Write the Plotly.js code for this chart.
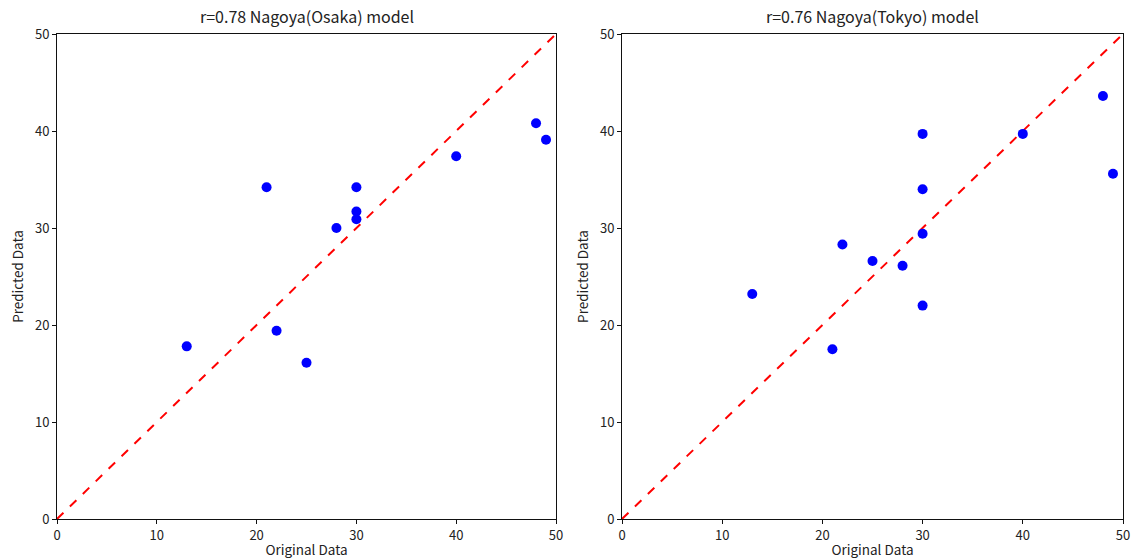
<!DOCTYPE html>
<html>
<head>
<meta charset="utf-8">
<script src="https://cdn.plot.ly/plotly-3.0.1.min.js"></script>
<style>html,body{margin:0;padding:0;background:#fff;}#chart{width:1132px;height:559px;}</style>
</head>
<body>
<div id="chart"></div>
<script>
// Data
const osakaOriginal = [13, 21, 22, 25, 28, 30, 30, 30, 40, 48, 49];
const osakaPredicted = [17.8, 34.2, 19.4, 16.1, 30.0, 34.2, 31.7, 30.9, 37.4, 40.8, 39.1];
const tokyoOriginal = [13, 21, 22, 25, 28, 30, 30, 30, 30, 40, 48, 49];
const tokyoPredicted = [23.2, 17.5, 28.3, 26.6, 26.1, 39.7, 34.0, 29.4, 22.0, 39.7, 43.6, 35.6];
const identityLine = [0, 50];
const titles = ["r=0.78 Nagoya(Osaka) model", "r=0.76 Nagoya(Tokyo) model"];
const xLabel = "Original Data";
const yLabel = "Predicted Data";
const tickVals = [0, 10, 20, 30, 40, 50];

const FONT = '"Noto Sans CJK JP", "Noto Sans", sans-serif';

const traces = [
  {x: identityLine, y: identityLine, mode: 'lines', line: {color: 'red', dash: 'dash', width: 2}, xaxis: 'x', yaxis: 'y', hoverinfo: 'skip'},
  {x: osakaOriginal, y: osakaPredicted, mode: 'markers', marker: {color: 'blue', size: 10}, xaxis: 'x', yaxis: 'y'},
  {x: identityLine, y: identityLine, mode: 'lines', line: {color: 'red', dash: 'dash', width: 2}, xaxis: 'x2', yaxis: 'y2', hoverinfo: 'skip'},
  {x: tokyoOriginal, y: tokyoPredicted, mode: 'markers', marker: {color: 'blue', size: 10}, xaxis: 'x2', yaxis: 'y2'}
];

function axis(extra) {
  return Object.assign({
    range: [0, 50], tickvals: tickVals, showgrid: false, zeroline: false,
    showline: true, linecolor: '#111', linewidth: 1, mirror: true,
    ticks: 'outside', ticklen: 4, tickcolor: '#111',
    tickfont: {family: FONT, size: 13, color: '#222'}, automargin: false
  }, extra);
}

const W = 1132;
const layout = {
  width: 1132, height: 559,
  margin: {l: 0, r: 0, t: 34, b: 40},
  paper_bgcolor: '#fff', plot_bgcolor: '#fff',
  showlegend: false,
  font: {family: FONT, color: '#222'},
  xaxis: axis({domain: [57 / W, 556 / W], anchor: 'y', title: {text: xLabel, font: {family: FONT, size: 13.5}, standoff: 3}}),
  yaxis: axis({domain: [0, 1], anchor: 'x', title: {text: yLabel, font: {family: FONT, size: 13.5}, standoff: 8}}),
  xaxis2: axis({domain: [622 / W, 1123 / W], anchor: 'y2', title: {text: xLabel, font: {family: FONT, size: 13.5}, standoff: 3}}),
  yaxis2: axis({domain: [0, 1], anchor: 'x2', title: {text: yLabel, font: {family: FONT, size: 13.5}, standoff: 8}}),
  annotations: [
    {text: titles[0], xref: 'paper', yref: 'paper', x: (57 + 556) / 2 / W, y: 1, yshift: 4, xanchor: 'center', yanchor: 'bottom', showarrow: false, font: {family: FONT, size: 16, color: '#222'}},
    {text: titles[1], xref: 'paper', yref: 'paper', x: (622 + 1123) / 2 / W, y: 1, yshift: 4, xanchor: 'center', yanchor: 'bottom', showarrow: false, font: {family: FONT, size: 16, color: '#222'}}
  ]
};

Plotly.newPlot('chart', traces, layout, {displayModeBar: false, staticPlot: true});
</script>
</body>
</html>
